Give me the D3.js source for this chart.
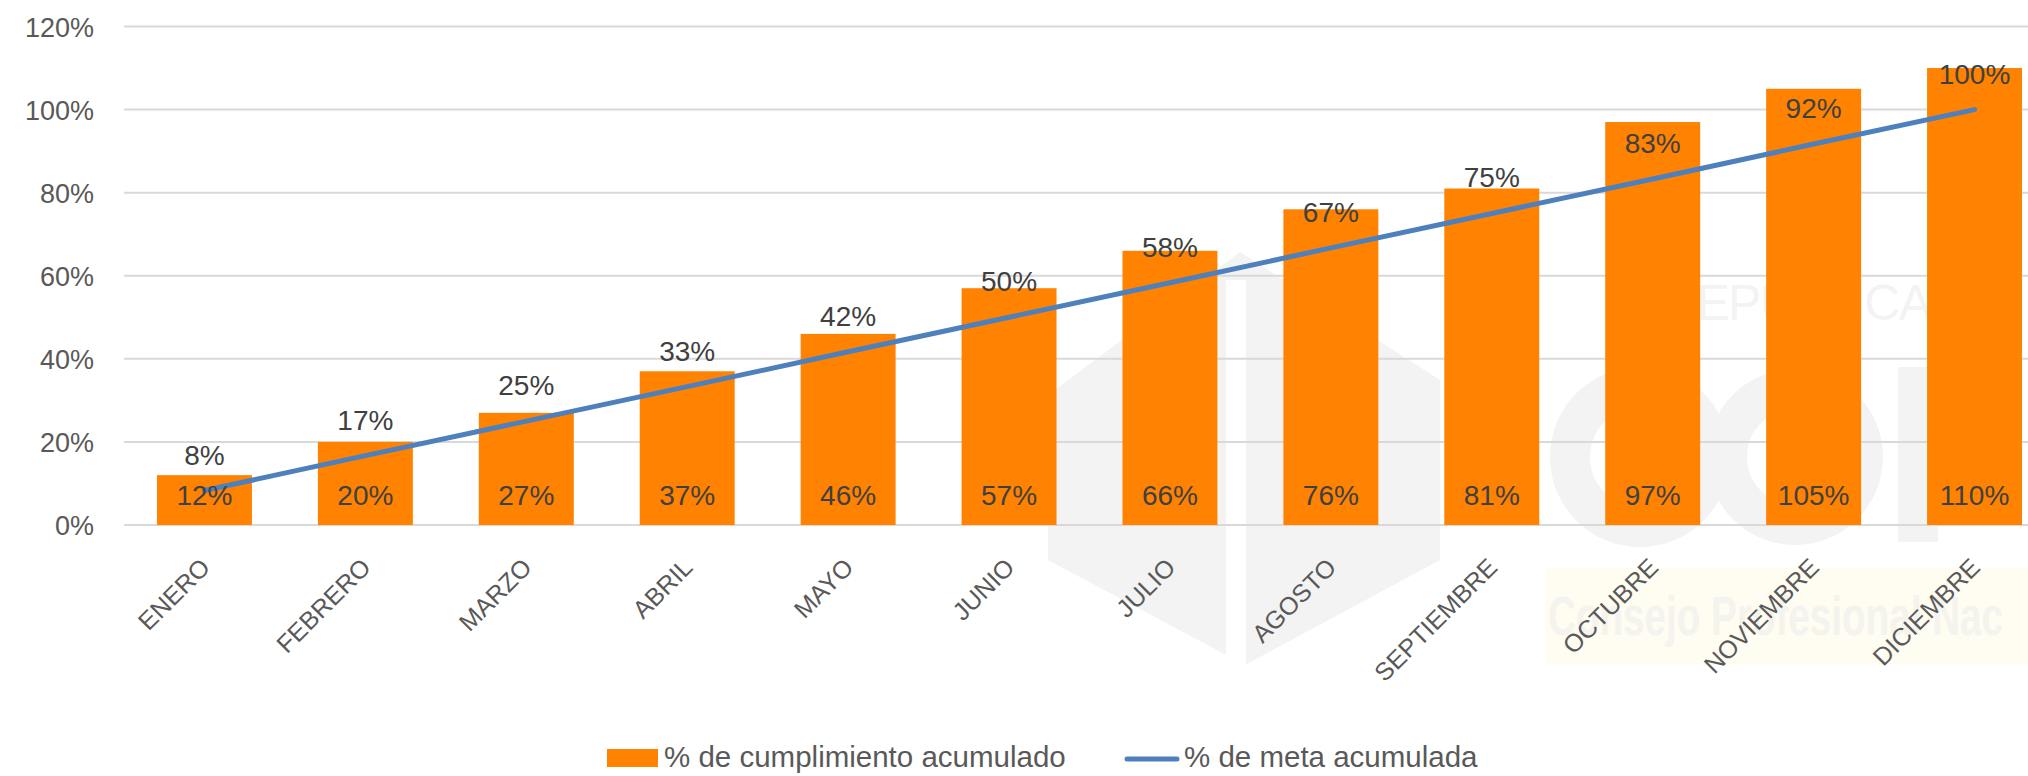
<!DOCTYPE html>
<html>
<head>
<meta charset="utf-8">
<script src="https://cdn.jsdelivr.net/npm/d3@7"></script>
<style>
  html, body { margin: 0; padding: 0; background: #ffffff; }
  svg { display: block; }
  text { font-family: "Liberation Sans", Arial, sans-serif; }
</style>
</head>
<body>
<svg id="chart" width="2028" height="776"></svg>
<script>
// ---- data ----
const months = ["ENERO", "FEBRERO", "MARZO", "ABRIL", "MAYO", "JUNIO", "JULIO", "AGOSTO", "SEPTIEMBRE", "OCTUBRE", "NOVIEMBRE", "DICIEMBRE"];
const cumplimiento = [0.12, 0.20, 0.27, 0.37, 0.46, 0.57, 0.66, 0.76, 0.81, 0.97, 1.05, 1.10];
const meta = [0.083, 0.167, 0.25, 0.333, 0.417, 0.50, 0.583, 0.667, 0.75, 0.833, 0.917, 1.00];
const yTicks = [0, 0.2, 0.4, 0.6, 0.8, 1.0, 1.2];
const seriesNames = ["% de cumplimiento acumulado", "% de meta acumulada"];

// ---- setup ----
const svg = d3.select("#chart");
const plot = { left: 124, right: 2055, top: 26.5, bottom: 525 };
const barColor = "#ff8200";
const lineColor = "#4e80bd";
const fmt = d3.format(".0%");

const x = d3.scaleBand().domain(months).range([plot.left, plot.right]).paddingInner(0.41).paddingOuter(0.205);
const y = d3.scaleLinear().domain([0, 1.2]).range([plot.bottom, plot.top]);

// ---- faint watermark (background logo) ----
const wm = svg.append("g").attr("class", "watermark");
wm.append("rect").attr("x", 1545).attr("y", 568).attr("width", 483).attr("height", 97).attr("fill", "#fffcf2");
wm.append("path")
  .attr("d", "M1048,395 L1240,252 L1440,380 L1440,560 L1245,665 L1048,560 Z")
  .attr("fill", "#f3f3f3");
wm.append("rect").attr("x", 1226).attr("y", 280).attr("width", 20).attr("height", 390).attr("fill", "#ffffff");
wm.append("circle").attr("cx", 1640).attr("cy", 457).attr("r", 70).attr("fill", "none").attr("stroke", "#f3f3f3").attr("stroke-width", 40);
wm.append("circle").attr("cx", 1795).attr("cy", 457).attr("r", 68).attr("fill", "none").attr("stroke", "#f3f3f3").attr("stroke-width", 40);
wm.append("rect").attr("x", 1898).attr("y", 367).attr("width", 40).attr("height", 175).attr("fill", "#f3f3f3");
wm.append("text").attr("x", 1662).attr("y", 320).attr("font-size", 50).attr("fill", "#f3f3f3")
  .attr("font-family", "'Liberation Sans Narrow', 'Liberation Sans', Arial, sans-serif")
  .attr("textLength", 270).attr("lengthAdjust", "spacing").text("REPUBLICA");
wm.append("text").attr("x", 1548).attr("y", 635).attr("font-size", 56).attr("font-weight", "bold").attr("fill", "#f4f3ee")
  .attr("font-family", "'Liberation Sans Narrow', 'Liberation Sans', Arial, sans-serif")
  .attr("textLength", 455).attr("lengthAdjust", "spacingAndGlyphs").text("Consejo Profesional Nac");

// ---- gridlines ----
svg.append("g").selectAll("line").data(yTicks).join("line")
  .attr("x1", plot.left).attr("x2", plot.right)
  .attr("y1", d => y(d)).attr("y2", d => y(d))
  .attr("stroke", "#d9d9d9").attr("stroke-width", 2);

// ---- y axis labels ----
const yAxis = d3.axisLeft(y).tickValues(yTicks).tickFormat(fmt).tickSize(0).tickPadding(0);
const yG = svg.append("g").attr("transform", `translate(${94},0)`).call(yAxis);
yG.select(".domain").remove();
yG.selectAll("text").attr("font-size", 27).attr("fill", "#595959")
  .attr("font-family", "'Liberation Sans', Arial, sans-serif").attr("dy", "0.36em");

// ---- bars ----
svg.append("g").selectAll("rect").data(months).join("rect")
  .attr("x", d => x(d))
  .attr("y", (d, i) => y(cumplimiento[i]))
  .attr("width", x.bandwidth())
  .attr("height", (d, i) => y(0) - y(cumplimiento[i]))
  .attr("fill", barColor);

// ---- line ----
const line = d3.line()
  .x((d, i) => x(months[i]) + x.bandwidth() / 2)
  .y(d => y(d));
svg.append("path").datum(meta)
  .attr("d", line)
  .attr("fill", "none").attr("stroke", lineColor).attr("stroke-width", 5)
  .attr("stroke-linecap", "round").attr("stroke-linejoin", "round");

// ---- bar labels (inside base) ----
svg.append("g").selectAll("text").data(months).join("text")
  .attr("x", d => x(d) + x.bandwidth() / 2)
  .attr("y", y(0) - 20)
  .attr("text-anchor", "middle")
  .attr("font-size", 28).attr("fill", "#404040")
  .text((d, i) => fmt(cumplimiento[i]));

// ---- line labels (above) ----
svg.append("g").selectAll("text").data(months).join("text")
  .attr("x", d => x(d) + x.bandwidth() / 2)
  .attr("y", (d, i) => y(meta[i]) - 26)
  .attr("text-anchor", "middle")
  .attr("font-size", 28).attr("fill", "#404040")
  .text((d, i) => fmt(meta[i]));

// ---- x axis labels ----
const xAxis = d3.axisBottom(x).tickSize(0).tickPadding(0);
const xG = svg.append("g").attr("transform", `translate(0,${plot.bottom})`).call(xAxis);
xG.select(".domain").remove();
xG.selectAll("text")
  .attr("font-size", 25).attr("fill", "#595959")
  .attr("font-family", "'Liberation Sans', Arial, sans-serif")
  .attr("text-anchor", "end")
  .attr("dy", 0)
  .attr("y", 0)
  .attr("transform", "translate(7,44) rotate(-45)");

// ---- legend ----
const lg = svg.append("g");
lg.append("rect").attr("x", 607).attr("y", 749).attr("width", 51).attr("height", 18).attr("fill", barColor);
lg.append("text").attr("x", 664).attr("y", 767).attr("font-size", 29.5).attr("fill", "#595959").text(seriesNames[0]);
lg.append("line").attr("x1", 1127).attr("x2", 1177).attr("y1", 759).attr("y2", 759)
  .attr("stroke", lineColor).attr("stroke-width", 5).attr("stroke-linecap", "round");
lg.append("text").attr("x", 1184).attr("y", 767).attr("font-size", 29.5).attr("fill", "#595959").text(seriesNames[1]);
</script>
</body>
</html>
